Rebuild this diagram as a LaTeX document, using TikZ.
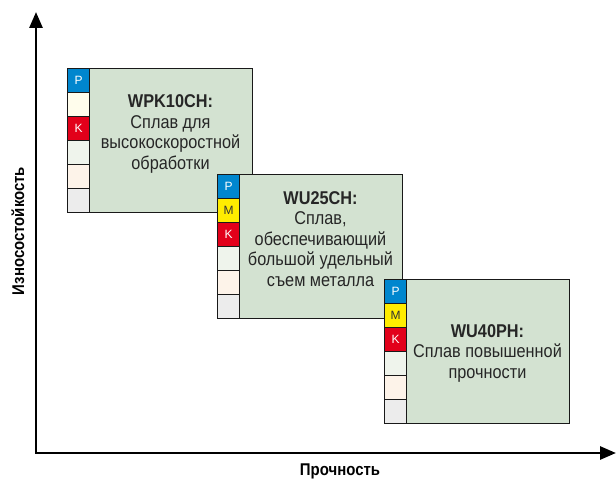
\documentclass[tikz,border=0pt]{standalone}
\usepackage{fontspec}
\setmainfont{Liberation Sans}
\newfontfamily\narrowfont{Liberation Sans}[FakeStretch=0.88]
\usetikzlibrary{arrows.meta, positioning}
\definecolor{isoP}{RGB}{0, 134, 206}
\definecolor{isoM}{RGB}{255, 236, 0}
\definecolor{isoK}{RGB}{226, 0, 26}
\definecolor{isoBlank}{RGB}{255, 253, 236}
\definecolor{isoN}{RGB}{239, 244, 236}
\definecolor{isoS}{RGB}{253, 243, 233}
\definecolor{isoH}{RGB}{236, 236, 236}
\definecolor{gradefill}{RGB}{211, 226, 209}

\begin{document}
\begin{tikzpicture}[x=1pt, y=-1pt,
    grade/.style={rectangle, draw=black!90, line width=1.1pt, fill=gradefill,
                  minimum width=185pt, minimum height=144pt, inner sep=0pt, anchor=north west},
    cell/.style={rectangle, draw=black!90, line width=1.1pt, minimum width=22pt,
                 minimum height=24pt, inner sep=0pt, anchor=north west,
                 font=\fontsize{12}{12}\selectfont},
    desc/.style={align=center, text=black!85, font=\narrowfont\fontsize{18.5}{20.5}\selectfont},
    axlabel/.style={font=\narrowfont\bfseries\fontsize{17}{17}\selectfont},
    axis/.style={line width=2.8pt, line join=miter,
                 {Triangle[length=16pt, width=13pt]}-{Triangle[length=16pt, width=13pt]}}]
    \useasboundingbox (0,0) rectangle (616,481);

    % Axes
    \coordinate (ytop) at (36,12);
    \coordinate (O) at (36,453);
    \coordinate (xend) at (616,453);
    \draw[axis] (ytop) -- (O) -- (xend);
    \node[axlabel, rotate=90] (ylab) at (18,231) {Износостойкость};
    \node[axlabel] (xlab) at (340,471) {Прочность};

    % Grade WPK10CH
    \node[grade] (G1) at (67,68) {};
    \foreach \c/\f/\t/\k in {isoP/white/P/0, isoBlank/black/{}/1, isoK/white/K/2,
                             isoN/black/{}/3, isoS/black/{}/4, isoH/black/{}/5}
        \node[cell, fill=\c, text=\f] (G1c\k) at (67,{68+24*\k}) {\t};
    \node[desc] (T1) at (170.5,134) {\textbf{WPK10CH:}\\Сплав для\\высокоскоростной\\обработки};

    % Grade WU25CH
    \node[grade] (G2) at (217,174) {};
    \foreach \c/\f/\t/\k in {isoP/white/P/0, isoM/black!80/M/1, isoK/white/K/2,
                             isoN/black/{}/3, isoS/black/{}/4, isoH/black/{}/5}
        \node[cell, fill=\c, text=\f] (G2c\k) at (217,{174+24*\k}) {\t};
    \node[desc] (T2) at (320.5,239) {\textbf{WU25CH:}\\Сплав,\\обеспечивающий\\большой удельный\\съем металла};

    % Grade WU40PH
    \node[grade] (G3) at (384,279) {};
    \foreach \c/\f/\t/\k in {isoP/white/P/0, isoM/black!80/M/1, isoK/white/K/2,
                             isoN/black/{}/3, isoS/black/{}/4, isoH/black/{}/5}
        \node[cell, fill=\c, text=\f] (G3c\k) at (384,{279+24*\k}) {\t};
    \node[desc] (T3) at (487.5,353) {\textbf{WU40PH:}\\Сплав повышенной\\прочности};
\end{tikzpicture}
\end{document}
